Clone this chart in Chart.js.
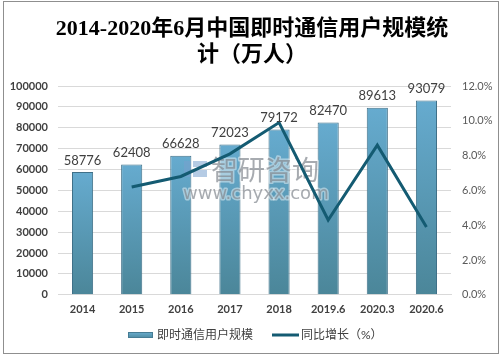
<!DOCTYPE html>
<html><head><meta charset="utf-8">
<style>html,body{margin:0;padding:0;background:#fff;}#wrap{width:504px;height:361px;position:relative;}</style>
<script src="https://cdn.jsdelivr.net/npm/chart.js@4.4.1/dist/chart.umd.min.js"></script>
</head><body><div id="wrap"><canvas id="c" width="504" height="361"></canvas></div>
<script>
const categories = ['2014','2015','2016','2017','2018','2019.6','2020.3','2020.6'];
const users = [58776, 62408, 66628, 72023, 79172, 82470, 89613, 93079];
const growth = [null, 6.2, 6.8, 8.1, 9.9, 4.3, 8.6, 3.9];
const leftTicks = {min: 0, max: 100000, step: 10000};
const rightTicks = {min: 0, max: 12, step: 2};
const titleLines = ['2014-2020年6月中国即时通信用户规模统', '计（万人）'];
const seriesNames = ['即时通信用户规模', '同比增长（%）'];

const SANS = 'Lato, "Noto Sans CJK SC", sans-serif';
const LINE_COLOR = '#145b72';

const framePlugin = {
  id: 'frame',
  beforeDraw(chart) {
    const ctx = chart.ctx;
    ctx.save();
    ctx.fillStyle = '#fff';
    ctx.fillRect(0, 0, chart.width, chart.height);
    ctx.strokeStyle = '#8f8f8f';
    ctx.lineWidth = 1;
    ctx.strokeRect(3.5, 1.5, 495, 352);
    // title
    ctx.fillStyle = '#000';
    ctx.textAlign = 'center';
    ctx.textBaseline = 'middle';
    ctx.font = 'bold 22px "Liberation Serif", "Noto Sans CJK SC", serif';
    ctx.fillText(titleLines[0], 252, 29);
    ctx.fillText(titleLines[1], 252, 55);
    ctx.restore();
  },
  afterDatasetDraw(chart, args) {
    if (args.index !== 0) return;
    // faint watermark above bars, below line
    const ctx = chart.ctx;
    ctx.save();
    ctx.textAlign = 'left';
    ctx.textBaseline = 'middle';
    ctx.lineJoin = 'round';
    ctx.fillStyle = 'rgba(120,160,205,0.55)';
    ctx.fillRect(184, 161, 7, 16);
    ctx.fillRect(193, 161, 14, 6);
    ctx.fillRect(193, 170, 14, 7);
    ctx.font = '27px "Noto Sans CJK SC", sans-serif';
    ctx.strokeStyle = 'rgba(255,255,255,0.45)';
    ctx.lineWidth = 3;
    ctx.strokeText('智研咨询', 211, 170);
    ctx.fillStyle = 'rgba(130,135,142,0.7)';
    ctx.fillText('智研咨询', 211, 170);
    ctx.font = '18px "DejaVu Sans", sans-serif';
    ctx.strokeText('www.chyxx.com', 183, 194);
    ctx.fillText('www.chyxx.com', 183, 194);
    ctx.restore();
  },
  afterDatasetsDraw(chart) {
    const ctx = chart.ctx;
    const meta = chart.getDatasetMeta(0);
    ctx.save();
    ctx.fillStyle = '#404040';
    ctx.font = '13px ' + SANS;
    ctx.textAlign = 'center';
    ctx.textBaseline = 'bottom';
    meta.data.forEach((bar, i) => {
      ctx.fillText(String(users[i]), bar.x, bar.y - 5);
    });
    ctx.restore();
  },
  afterDraw(chart) {
    // legend
    const ctx = chart.ctx;
    ctx.save();
    const y = 335;
    const g = ctx.createLinearGradient(0, y - 3, 0, y + 3);
    g.addColorStop(0, '#6aaed0'); g.addColorStop(1, '#4d8aa0');
    ctx.fillStyle = g;
    ctx.fillRect(128, y - 3, 25, 6);
    ctx.strokeStyle = '#467c94';
    ctx.lineWidth = 1;
    ctx.strokeRect(128.5, y - 2.5, 24, 5);
    ctx.fillStyle = '#404040';
    ctx.font = '12px ' + SANS;
    ctx.textBaseline = 'middle';
    ctx.textAlign = 'left';
    ctx.fillText(seriesNames[0], 157, y);
    ctx.strokeStyle = LINE_COLOR;
    ctx.lineWidth = 3;
    ctx.beginPath(); ctx.moveTo(272, y); ctx.lineTo(299, y); ctx.stroke();
    ctx.fillText(seriesNames[1], 301, y);
    ctx.restore();
  }
};

function barGradient(context) {
  const chart = context.chart;
  const area = chart.chartArea;
  if (!area) return '#5a9bbd';
  const v = context.raw;
  const top = chart.scales.y.getPixelForValue(v);
  const g = chart.ctx.createLinearGradient(0, top, 0, area.bottom);
  g.addColorStop(0, '#66abcf');
  g.addColorStop(1, '#4b8699');
  return g;
}

new Chart(document.getElementById('c'), {
  data: {
    labels: categories,
    datasets: [
      {
        type: 'bar', label: seriesNames[0], data: users, yAxisID: 'y', order: 2,
        backgroundColor: barGradient, borderColor: '#3f7088', borderWidth: 1,
        barPercentage: 0.43, categoryPercentage: 1.0
      },
      {
        type: 'line', label: seriesNames[1], data: growth, yAxisID: 'y1', order: 1,
        borderColor: LINE_COLOR, borderWidth: 3, pointRadius: 0, tension: 0,
        fill: false, spanGaps: false, borderJoinStyle: 'miter'
      }
    ]
  },
  options: {
    responsive: false, animation: false,
    layout: {padding: {left: 0, right: 0, top: 86, bottom: 37}},
    plugins: {
      legend: {display: false},
      tooltip: {enabled: false},
      title: {display: false}
    },
    scales: {
      x: {
        offset: true,
        grid: {display: false, drawTicks: false},
        border: {display: true, color: '#d9d9d9'},
        ticks: {color: '#404040', font: {family: SANS, size: 11, weight: 'bold'}, padding: 8, maxRotation: 0, autoSkip: false}
      },
      y: {
        position: 'left', min: leftTicks.min, max: leftTicks.max,
        ticks: {stepSize: leftTicks.step, color: '#404040', font: {family: SANS, size: 11, weight: 'bold'}, padding: 10,
          callback: v => String(v)},
        grid: {color: '#d9d9d9', drawTicks: false},
        border: {display: false},
        afterFit(s) { s.width = 58; }
      },
      y1: {
        position: 'right', min: rightTicks.min, max: rightTicks.max,
        ticks: {stepSize: rightTicks.step, color: '#595959', font: {family: SANS, size: 11}, padding: 11,
          callback: v => Number(v).toFixed(1) + '%'},
        grid: {display: false, drawTicks: false},
        border: {display: false},
        afterFit(s) { s.width = 53; }
      }
    }
  },
  plugins: [framePlugin]
});
</script></body></html>
